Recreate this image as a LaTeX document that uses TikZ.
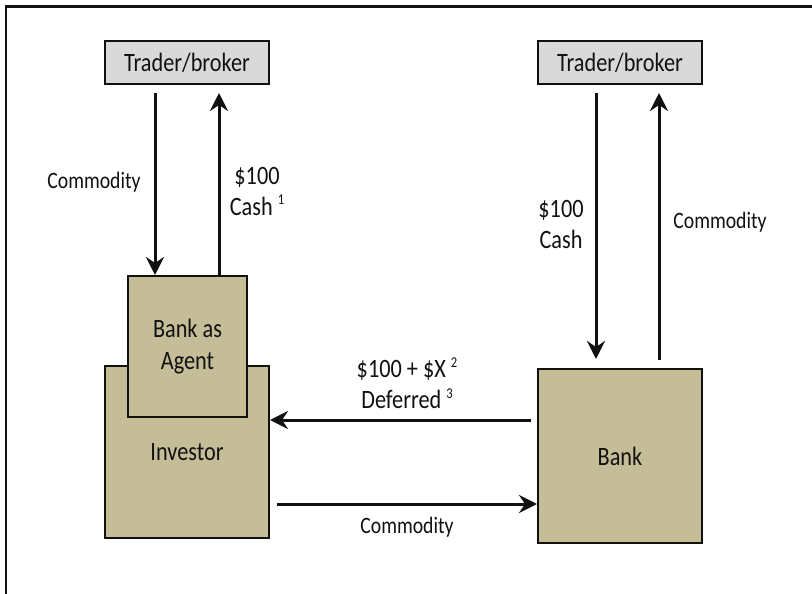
\documentclass[tikz,border=0pt]{standalone}
\usepackage{fontspec}
\setmainfont{Carlito}[FakeStretch=0.84]
\usetikzlibrary{arrows.meta}
\definecolor{tan}{HTML}{C4BD97}
\definecolor{lgray}{HTML}{D9D9D9}
\definecolor{ink}{HTML}{111111}
\newcommand{\sups}[1]{\raisebox{0.8ex}{\fontsize{15}{15}\selectfont #1}}
\tikzset{
  box/.style={draw=ink, line width=2pt, inner sep=0pt, text=ink,
    font=\fontsize{26.5}{32}\selectfont, align=center},
  trader/.style={box, fill=lgray, minimum width=164pt, minimum height=43pt},
  tanbox/.style={box, fill=tan},
  flow/.style={draw=ink, line width=3pt, -{Stealth[length=18pt,width=18pt,inset=6pt]}},
  lbl/.style={text=ink, inner sep=0pt, align=center, font=\fontsize{26.5}{31}\selectfont},
  clbl/.style={text=ink, inner sep=0pt, align=center, font=\fontsize{23.5}{28}\selectfont}
}
\begin{document}
\begin{tikzpicture}[x=1pt,y=-1pt]
\useasboundingbox (0,0) rectangle (812,594);
\draw[ink, line width=2.2pt] (6,594) -- (6,6.5);
\draw[ink, line width=3pt] (5,6.5) -- (812,6.5);

\node[trader] (tl) at (187,62.5) {Trader/broker};
\node[trader] (tr) at (620,62.5) {Trader/broker};
\node[tanbox, minimum width=164pt, minimum height=172pt] (inv) at (187,452) {Investor};
\node[tanbox, minimum width=119pt, minimum height=141pt] (agent) at (187.5,346.5) {Bank as\\Agent};
\node[tanbox, minimum width=164pt, minimum height=174pt] (bank) at (620,456) {Bank};

% left trader flows
\draw[flow] ([xshift=-32pt,yshift=-8pt]tl.south) -- ([xshift=-32pt]tl.south |- agent.north);
\draw[flow] ([xshift=32pt]tl.south |- agent.north) -- ([xshift=32pt,yshift=-8pt]tl.south);
% right trader flows
\draw[flow] ([xshift=-24pt,yshift=-8pt]tr.south) -- ([xshift=-24pt,yshift=9pt]tr.south |- bank.north);
\draw[flow] ([xshift=39pt,yshift=8pt]tr.south |- bank.north) -- ([xshift=39pt,yshift=-8pt]tr.south);
% horizontal flows
\draw[flow] ([xshift=-6pt,yshift=36pt]bank.west) -- ([yshift=36pt]bank.west -| inv.east);
\draw[flow] ([xshift=7pt,yshift=-48pt]bank.west -| inv.east) -- ([yshift=-48pt]bank.west);

\node[clbl] (c1) at (94,182) {Commodity};
\node[lbl] (m1) at (257,191) {\$100\\Cash \sups{1}};
\node[lbl] (m2) at (561,224) {\$100\\Cash};
\node[clbl] (c2) at (720,222) {Commodity};
\node[lbl] (m3) at (407,383.5) {\$100 + \$X \sups{2}\\Deferred \sups{3}};
\node[clbl] (c3) at (407,527) {Commodity};
\end{tikzpicture}
\end{document}
